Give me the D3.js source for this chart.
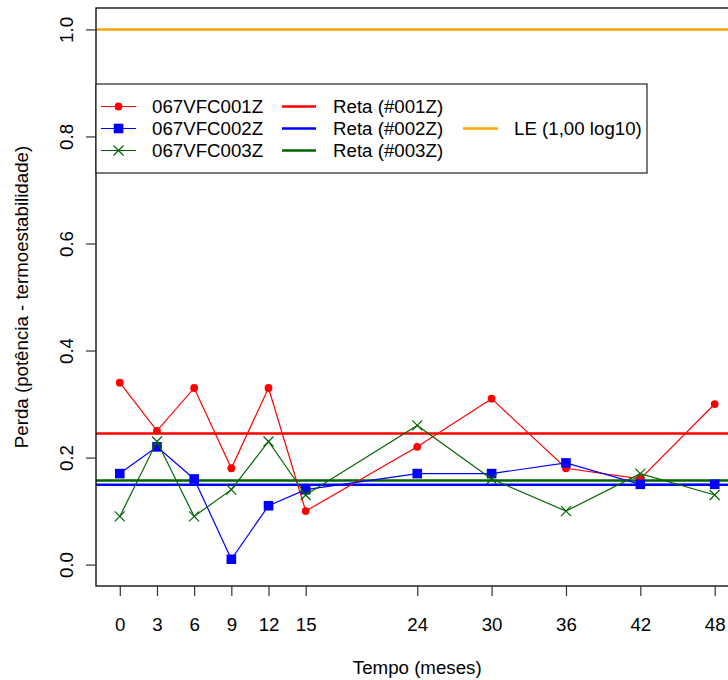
<!DOCTYPE html>
<html>
<head>
<meta charset="utf-8">
<script src="https://cdn.jsdelivr.net/npm/d3@7"></script>
<style>
  html, body { margin: 0; padding: 0; background: #fff; }
  svg text { font-family: "Liberation Sans", Arial, Helvetica, sans-serif; fill: #000; }
</style>
</head>
<body>
<svg id="chart" width="728" height="680"></svg>
<script>
// ---- data ----
const months = [0, 3, 6, 9, 12, 15, 24, 30, 36, 42, 48];
const xTickLabels = ["0", "3", "6", "9", "12", "15", "24", "30", "36", "42", "48"];
const yTicks = [0.0, 0.2, 0.4, 0.6, 0.8, 1.0];
const yTickLabels = ["0.0", "0.2", "0.4", "0.6", "0.8", "1.0"];
const lote001 = [0.34, 0.25, 0.33, 0.18, 0.33, 0.10, 0.22, 0.31, 0.18, 0.16, 0.30];
const lote002 = [0.17, 0.22, 0.16, 0.01, 0.11, 0.14, 0.17, 0.17, 0.19, 0.15, 0.15];
const lote003 = [0.09, 0.23, 0.09, 0.14, 0.23, 0.13, 0.26, 0.16, 0.10, 0.17, 0.13];
const seriesNames = ["067VFC001Z", "067VFC002Z", "067VFC003Z"];
const retaNames = ["Reta (#001Z)", "Reta (#002Z)", "Reta (#003Z)"];
const retaValues = [0.245, 0.149, 0.157];
const leName = "LE (1,00 log10)";
const leValue = 1.0;
const xTitle = "Tempo (meses)";
const yTitle = "Perda (potência - termoestabilidade)";

// ---- layout ----
const colors = ["#FF0000", "#0000FF", "#006400"];
const leColor = "#FFA500";
const symbols = ["dot", "square", "cross"];
const plot = { left: 96, top: 8, right: 738.5, bottom: 586 };
const fs = 18.7;

const svg = d3.select("#chart");
const x = d3.scaleLinear().domain([-1.92, 49.92]).range([plot.left, plot.right]);
const y = d3.scaleLinear().domain([-0.04, 1.04]).range([plot.bottom, plot.top]);

svg.append("defs").append("clipPath").attr("id", "clip")
  .append("rect").attr("x", plot.left).attr("y", plot.top)
  .attr("width", plot.right - plot.left).attr("height", plot.bottom - plot.top);

const g = svg.append("g").attr("clip-path", "url(#clip)");

// LE line
g.append("line").attr("x1", plot.left).attr("x2", plot.right)
  .attr("y1", y(leValue)).attr("y2", y(leValue))
  .attr("stroke", leColor).attr("stroke-width", 2.5);

// reta lines
retaValues.forEach((v, i) => {
  g.append("line").attr("x1", plot.left).attr("x2", plot.right)
    .attr("y1", y(v)).attr("y2", y(v))
    .attr("stroke", colors[i]).attr("stroke-width", 2.5);
});

// series
function drawSymbol(sel, type, cx, cy, color) {
  if (type === "dot") {
    sel.append("circle").attr("cx", cx).attr("cy", cy).attr("r", 3.9).attr("fill", color);
  } else if (type === "square") {
    sel.append("rect").attr("x", cx - 4.8).attr("y", cy - 4.8).attr("width", 9.6).attr("height", 9.6).attr("fill", color);
  } else {
    const s = 5;
    sel.append("path").attr("d", `M${cx - s},${cy - s}L${cx + s},${cy + s}M${cx - s},${cy + s}L${cx + s},${cy - s}`)
      .attr("stroke", color).attr("stroke-width", 1.2).attr("fill", "none");
  }
}
const allSeries = [lote001, lote002, lote003];
allSeries.forEach((vals, i) => {
  const line = d3.line().x((d, j) => x(months[j])).y(d => y(d));
  g.append("path").datum(vals).attr("d", line)
    .attr("fill", "none").attr("stroke", colors[i]).attr("stroke-width", 1.2);
  vals.forEach((v, j) => drawSymbol(g, symbols[i], x(months[j]), y(v), colors[i]));
});

// plot box
svg.append("rect").attr("x", plot.left).attr("y", plot.top)
  .attr("width", plot.right - plot.left).attr("height", plot.bottom - plot.top)
  .attr("fill", "none").attr("stroke", "#000").attr("stroke-width", 1.3);

// x axis
const xAxis = d3.axisBottom(x).tickValues(months).tickSize(10).tickPadding(0)
  .tickFormat((d, i) => xTickLabels[i]);
const gx = svg.append("g").attr("transform", `translate(0,${plot.bottom})`).call(xAxis);
gx.select(".domain").remove();
gx.selectAll(".tick line").attr("stroke", "#333").attr("stroke-width", 1.2);
gx.selectAll(".tick text").attr("font-size", fs).attr("dy", null).attr("y", 45);

// y axis
const yAxis = d3.axisLeft(y).tickValues(yTicks).tickSize(10)
  .tickFormat((d, i) => yTickLabels[i]);
const gy = svg.append("g").attr("transform", `translate(${plot.left},0)`).call(yAxis);
gy.select(".domain").remove();
gy.selectAll(".tick line").attr("stroke", "#333").attr("stroke-width", 1.2);
gy.selectAll(".tick text").attr("font-size", fs)
  .attr("x", null).attr("dy", null)
  .attr("text-anchor", "middle")
  .attr("transform", "translate(-23,0) rotate(-90)");

// titles
svg.append("text").attr("x", (x(0) + x(48)) / 2).attr("y", 674)
  .attr("text-anchor", "middle").attr("font-size", fs).text(xTitle);
svg.append("text").attr("transform", `translate(28,${(plot.top + plot.bottom) / 2}) rotate(-90)`)
  .attr("text-anchor", "middle").attr("font-size", fs).text(yTitle);

// legend
const leg = svg.append("g");
leg.append("rect").attr("x", 96).attr("y", 84).attr("width", 551).attr("height", 89)
  .attr("fill", "#fff").attr("stroke", "#222").attr("stroke-width", 1.2);
const rowY = [106.5, 128.5, 150.5];
seriesNames.forEach((name, i) => {
  leg.append("line").attr("x1", 101).attr("x2", 136).attr("y1", rowY[i]).attr("y2", rowY[i])
    .attr("stroke", colors[i]).attr("stroke-width", 1.2);
  drawSymbol(leg, symbols[i], 118.5, rowY[i], colors[i]);
  leg.append("text").attr("x", 152).attr("y", rowY[i] + 6.7).attr("font-size", fs).text(name);
});
retaNames.forEach((name, i) => {
  leg.append("line").attr("x1", 282).attr("x2", 316).attr("y1", rowY[i]).attr("y2", rowY[i])
    .attr("stroke", colors[i]).attr("stroke-width", 2.5);
  leg.append("text").attr("x", 333).attr("y", rowY[i] + 6.7).attr("font-size", fs).text(name);
});
leg.append("line").attr("x1", 463).attr("x2", 498).attr("y1", rowY[1]).attr("y2", rowY[1])
  .attr("stroke", leColor).attr("stroke-width", 2.5);
leg.append("text").attr("x", 514).attr("y", rowY[1] + 6.7).attr("font-size", fs).text(leName);
</script>
</body>
</html>
